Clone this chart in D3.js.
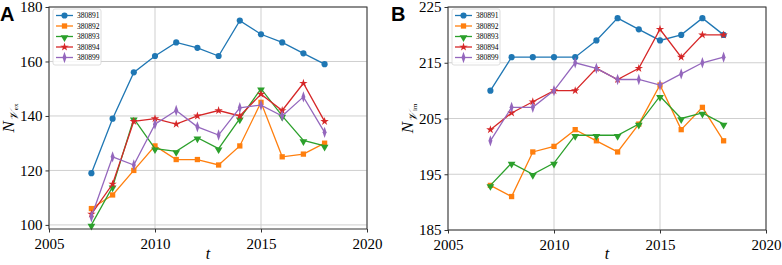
<!DOCTYPE html>
<html>
<head>
<meta charset="utf-8">
<script src="https://cdn.jsdelivr.net/npm/d3@7"></script>
<style>
  body { margin: 0; background: white; }
</style>
</head>
<body>
<div id="canvas"></div>
<script>
"use strict"

let svgWidth = 782;
let svgHeight = 265;
let serif = "'Liberation Serif', 'Times New Roman', serif";

/* data */
let years = [2007, 2008, 2009, 2010, 2011, 2012, 2013, 2014, 2015, 2016, 2017, 2018];
let seriesNames = ["380891", "380892", "380893", "380894", "380899"];
let colors = ["#1f77b4", "#ff7f0e", "#2ca02c", "#d62728", "#9467bd"];
let markers = ["circle", "square", "triangleDown", "star", "diamond"];

let exValues = [
    [119, 139, 156, 162, 167, 165, 162, 175, 170, 167, 163, 159],
    [106, 111, 120, 129, 124, 124, 122, 129, 145, 125, 126, 130],
    [100, 114, 139, 128, 127, 132, 128, 139, 150, 140, 131, 129],
    [104, 115, 138, 139, 137, 140, 142, 140, 148, 142, 152, 138],
    [103, 125, 122, 137, 142, 136, 133, 143, 144, 140, 147, 134]
];
let imValues = [
    [210, 216, 216, 216, 216, 219, 223, 221, 219, 220, 223, 220],
    [193, 191, 199, 200, 203, 201, 199, 204, 211, 203, 207, 201],
    [193, 197, 195, 197, 202, 202, 202, 204, 209, 205, 206, 204],
    [203, 206, 208, 210, 210, 214, 212, 214, 221, 216, 220, 220],
    [201, 207, 207, 210, 215, 214, 212, 212, 211, 213, 215, 216]
];
let xTicks = [2005, 2010, 2015, 2020];
let exTicks = [100, 120, 140, 160, 180];
let imTicks = [185, 195, 205, 215, 225];

let svg = d3.select("#canvas")
    .append("svg")
    .attr("width", svgWidth)
    .attr("height", svgHeight);

function markerPath(type) {
    let sym;
    if (type === "circle") sym = d3.symbol(d3.symbolCircle, 30);
    else if (type === "square") sym = d3.symbol(d3.symbolSquare, 28);
    else if (type === "triangleDown") sym = d3.symbol(d3.symbolTriangle, 26);
    else if (type === "star") sym = d3.symbol(d3.symbolStar, 22);
    else sym = d3.symbol(d3.symbolDiamond, 28);
    return sym();
}

function markerTransform(type, x, y) {
    if (type === "triangleDown") return `translate(${x},${y + 1}) rotate(180)`;
    if (type === "diamond") return `translate(${x},${y}) scale(0.7,1.15)`;
    return `translate(${x},${y})`;
}

function drawPanel(opts) {
    let g = svg.append("g");
    let xScale = d3.scaleLinear().domain([2005, 2020]).range([opts.left, opts.right]);
    let yScale = d3.scaleLinear().domain(opts.yDomain).range([opts.bottom, opts.top]);

    /* grid */
    g.selectAll("line.vgrid").data(xTicks).join("line")
        .attr("x1", d => xScale(d)).attr("x2", d => xScale(d))
        .attr("y1", opts.top).attr("y2", opts.bottom)
        .attr("stroke", "#cfcfcf").attr("stroke-width", 1);
    g.selectAll("line.hgrid").data(opts.yTicks).join("line")
        .attr("x1", opts.left).attr("x2", opts.right)
        .attr("y1", d => yScale(d)).attr("y2", d => yScale(d))
        .attr("stroke", "#cfcfcf").attr("stroke-width", 1);

    /* axes */
    let xAxis = d3.axisBottom(xScale).tickValues(xTicks).tickFormat(d3.format("d")).tickSize(3.5);
    let yAxis = d3.axisLeft(yScale).tickValues(opts.yTicks).tickSize(3.5);
    let xg = g.append("g").attr("transform", `translate(0,${opts.bottom})`).call(xAxis);
    let yg = g.append("g").attr("transform", `translate(${opts.left},0)`).call(yAxis);
    [xg, yg].forEach(a => {
        a.select(".domain").remove();
        a.selectAll("line").attr("stroke", "#333");
        a.selectAll("text").style("font-family", serif)
            .style("font-size", "15px").attr("fill", "#000");
    });
    xg.selectAll("text").attr("dy", "0.9em");

    /* series */
    let line = d3.line().x((d, i) => xScale(years[i])).y(d => yScale(d));
    opts.values.forEach(function(vals, s) {
        g.append("path")
            .attr("d", line(vals))
            .attr("fill", "none")
            .attr("stroke", colors[s])
            .attr("stroke-width", 1.3);
        g.selectAll("path.m" + s).data(vals).join("path")
            .attr("class", "m" + s)
            .attr("d", markerPath(markers[s]))
            .attr("transform", (d, i) => markerTransform(markers[s], xScale(years[i]), yScale(d)))
            .attr("fill", colors[s]);
    });

    /* frame */
    g.append("rect")
        .attr("x", opts.left).attr("y", opts.top)
        .attr("width", opts.right - opts.left).attr("height", opts.bottom - opts.top)
        .attr("fill", "none").attr("stroke", "#333").attr("stroke-width", 1);

    /* legend */
    let lx = opts.left + 4, ly = opts.top + 2;
    g.append("rect")
        .attr("x", lx).attr("y", ly).attr("width", 48).attr("height", 56)
        .attr("rx", 2).attr("fill", "white").attr("fill-opacity", 0.85)
        .attr("stroke", "#d5d5d5").attr("stroke-width", 0.8);
    seriesNames.forEach(function(name, s) {
        let yy = ly + 6.5 + s * 10.5;
        g.append("line")
            .attr("x1", lx + 3).attr("x2", lx + 20)
            .attr("y1", yy).attr("y2", yy)
            .attr("stroke", colors[s]).attr("stroke-width", 1.3);
        g.append("path")
            .attr("d", markerPath(markers[s]))
            .attr("transform", markerTransform(markers[s], lx + 11.5, yy))
            .attr("fill", colors[s]);
        g.append("text")
            .attr("x", lx + 24).attr("y", yy + 2.5)
            .style("font-family", serif)
            .style("font-size", "7.5px")
            .text(name);
    });

    /* y label */
    let cy = (opts.top + opts.bottom) / 2;
    let yl = g.append("text")
        .attr("transform", `translate(${opts.labelX},${cy}) rotate(-90)`)
        .attr("text-anchor", "middle")
        .style("font-family", serif)
        .style("font-size", "17px");
    yl.append("tspan").attr("font-style", "italic").text("N");
    yl.append("tspan").style("font-size", "12px").attr("dy", 4)
        .attr("font-style", "italic").text("\uD835\uDCB1");
    yl.append("tspan").style("font-size", "7px").attr("dy", 0).attr("dx", 1).text(opts.sub);

    /* x label */
    g.append("text")
        .attr("x", (opts.left + opts.right) / 2).attr("y", 259)
        .attr("text-anchor", "middle")
        .style("font-family", serif)
        .style("font-size", "16px").attr("font-style", "italic")
        .text("t");

    /* panel letter */
    g.append("text")
        .attr("x", opts.letterX).attr("y", 21)
        .style("font-family", "'Liberation Sans', Arial, sans-serif")
        .attr("font-weight", "bold").style("font-size", "20px")
        .text(opts.letter);
}

drawPanel({
    left: 49, right: 367, top: 7, bottom: 229,
    yDomain: [98.5, 180], yTicks: exTicks, values: exValues,
    sub: "ex", labelX: 14, letter: "A", letterX: 0
});

drawPanel({
    left: 448, right: 766, top: 7, bottom: 230,
    yDomain: [185, 225], yTicks: imTicks, values: imValues,
    sub: "im", labelX: 413, letter: "B", letterX: 391
});
</script>
</body>
</html>
